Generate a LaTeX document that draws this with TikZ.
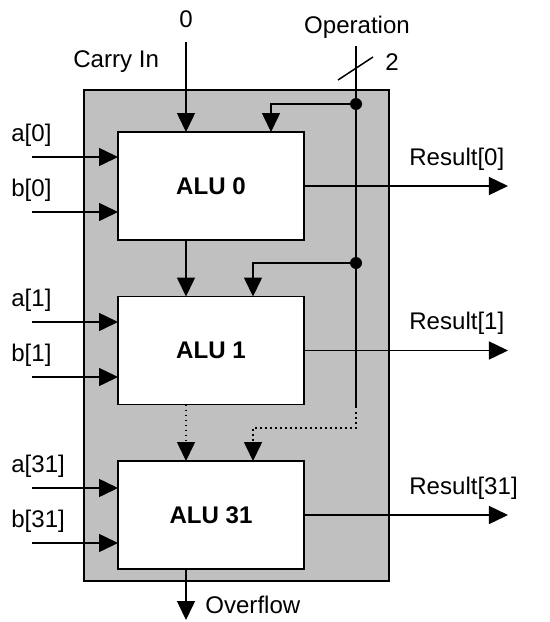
\documentclass[tikz,border=0pt]{standalone}
\usepackage{fontspec}
\setmainfont{Liberation Sans}
\usetikzlibrary{arrows.meta,calc,positioning}
\definecolor{panel}{HTML}{C0C0C0}

\begin{document}
\begin{tikzpicture}[
  x=0.02cm, y=-0.02cm,
  alu/.style={draw, fill=white, line width=0.85pt, minimum width=3.72cm,
              minimum height=2.16cm, inner sep=0pt, outer sep=0pt,
              font=\fontsize{13.7}{16}\selectfont\bfseries},
  lbl/.style={font=\fontsize{13.7}{16}\selectfont, inner sep=0pt, anchor=base west},
  wire/.style={line width=0.85pt},
  sig/.style={wire, -{Triangle[length=0.38cm, width=0.36cm]}},
  tap/.style={circle, fill, inner sep=0pt, minimum size=0.24cm}
]
\useasboundingbox (0,0) rectangle (550,622);

% Grey panel behind the slices
\draw[wire, fill=panel] (84,90) rectangle (389,581);

% ALU slices top to bottom
\node[alu] (alu0)  at (211,186)   {ALU 0};
\node[alu] (alu1)  at (211,350.5) {ALU 1};
\node[alu] (alu31) at (211,515)   {ALU 31};

% Operand inputs and results
\foreach \n/\ya/\yb in {0/157/212, 1/322/377, 31/488/543}{
  \coordinate (a\n) at (32,\ya);
  \coordinate (b\n) at (32,\yb);
  \node[lbl] (la\n) at (11,\ya-16) {a[\n]};
  \node[lbl] (lb\n) at (11,\yb-16) {b[\n]};
  \draw[sig] (a\n) -- (a\n -| alu\n.west);
  \draw[sig] (b\n) -- (b\n -| alu\n.west);
  \coordinate (r\n) at ($(alu\n.east)+(204,0)$);
  \node[lbl] (lr\n) at ($(alu\n.east)+(105,-21)$) {Result[\n]};
  \draw[sig] (alu\n.east) -- (r\n);
}

% Carry chain
\node[lbl, anchor=base] (zero) at (186,28) {0};
\node[lbl] (cinlbl) at (73,67) {Carry In};
\coordinate (cin) at (186,42);
\draw[sig] (cin) -- (cin |- alu0.north);
\draw[sig] (cin |- alu0.south) -- (cin |- alu1.north);
\draw[sig, dotted] (cin |- alu1.south) -- (cin |- alu31.north);
\coordinate (ovf) at (186,620);
\draw[sig] (cin |- alu31.south) -- (ovf);
\node[lbl] (ovflbl) at (205,613) {Overflow};

% Operation bus
\node[lbl, anchor=base] (op) at (357,33) {Operation};
\coordinate (optop) at (356,46);
\coordinate (opend) at (356,407);
\coordinate (opturn) at (356,428);
\node[tap] (t0) at (356,104) {};
\node[tap] (t1) at (356,263) {};
\draw[wire] (optop) -- (opend);
\draw[wire] (338,80) -- (373,57);
\node[lbl] (width) at (385,70) {2};
\draw[sig] (t0.center) -| ($(alu0.north)+(60,0)$);
\draw[sig] (t1.center) -| ($(alu1.north)+(42,0)$);
\draw[sig, dotted] (opend) -- (opturn) -| ($(alu31.north)+(42,0)$);

\end{tikzpicture}
\end{document}
